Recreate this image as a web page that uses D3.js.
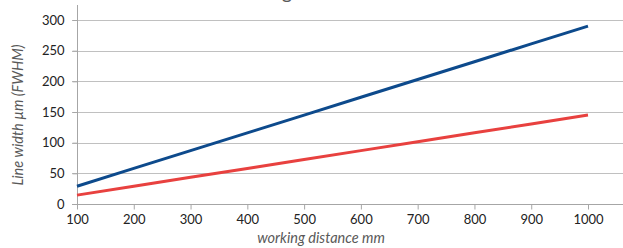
<!DOCTYPE html>
<html>
<head>
    <meta charset="utf-8">
    <title>Line width vs working distance</title>
    <style type="text/css">
        body { margin: 0; background: #fff; }
        svg text { font-family: Lato, "Open Sans", sans-serif; }
        .grid line { stroke: #c0c0c0; stroke-width: 1; }
        .axis path, .axis line { stroke: #a6a6a6; }
        .tick text { fill: #222; font-size: 13px; }
        .axis-title { fill: #595959; font-size: 14.5px; font-style: italic; }
    </style>
</head>
<body>
<div id="chart"></div>
<script src="https://cdn.jsdelivr.net/npm/d3@7"></script>
<script type="text/javascript">
    // working distance (mm)
    var distances = [100, 200, 300, 400, 500, 600, 700, 800, 900, 1000];
    // line width (µm FWHM), two series
    var blueSeries = [29, 58, 87, 116, 145, 174, 203, 232, 261, 290];
    var redSeries = [14.5, 29, 43.5, 58, 72.5, 87, 101.5, 116, 130.5, 145];
    var yTicks = [0, 50, 100, 150, 200, 250, 300];

    var width = 623, height = 248;

    var svg = d3.select('#chart')
        .append('svg')
        .attr('width', width)
        .attr('height', height);

    // x runs 100 -> 1000 between x=77 and x=588
    var x = d3.scaleLinear().domain([100, 1000]).range([77, 588]);
    var y = d3.scaleLinear().domain([0, 300]).range([204, 20]);

    // cropped title, only the tail of a "g" shows
    svg.append('text')
        .attr('x', 287)
        .attr('y', -1)
        .attr('text-anchor', 'middle')
        .attr('fill', '#595959')
        .style('font-size', '20px')
        .text('g');

    // horizontal gridlines, they run off the right edge
    svg.append('g').attr('class', 'grid')
        .selectAll('line')
        .data(yTicks.slice(1))
        .enter()
        .append('line')
        .attr('x1', 72)
        .attr('x2', width)
        .attr('y1', function (d) { return Math.round(y(d)) + 0.5; })
        .attr('y2', function (d) { return Math.round(y(d)) + 0.5; });

    // y axis
    var yAxis = svg.append('g')
        .attr('class', 'axis')
        .attr('transform', 'translate(77.5,0)')
        .call(d3.axisLeft(y).tickValues(yTicks).tickSize(5).tickPadding(8));
    yAxis.select('.domain').attr('d', 'M0,5V' + (Math.round(y(0)) + 0.5));

    // x axis
    var xAxis = svg.append('g')
        .attr('class', 'axis')
        .attr('transform', 'translate(0,' + (Math.round(y(0)) + 0.5) + ')')
        .call(d3.axisBottom(x).tickValues(distances).tickFormat(d3.format('d')).tickSize(5).tickPadding(5));
    xAxis.select('.domain').attr('d', 'M72,0H' + width);

    // lines
    var line = d3.line()
        .x(function (d, i) { return x(distances[i]); })
        .y(function (d) { return y(d); });

    svg.append('path')
        .datum(redSeries)
        .attr('fill', 'none')
        .attr('stroke', '#e8413f')
        .attr('stroke-width', 3)
        .attr('d', line);

    svg.append('path')
        .datum(blueSeries)
        .attr('fill', 'none')
        .attr('stroke', '#0d4a8c')
        .attr('stroke-width', 3)
        .attr('d', line);

    // axis titles
    svg.append('text')
        .attr('class', 'axis-title')
        .attr('transform', 'translate(23,115) rotate(-90)')
        .attr('text-anchor', 'middle')
        .text('Line width µm (FWHM)');

    svg.append('text')
        .attr('class', 'axis-title')
        .attr('x', 321)
        .attr('y', 243)
        .attr('text-anchor', 'middle')
        .text('working distance mm');
</script>
</body>
</html>
